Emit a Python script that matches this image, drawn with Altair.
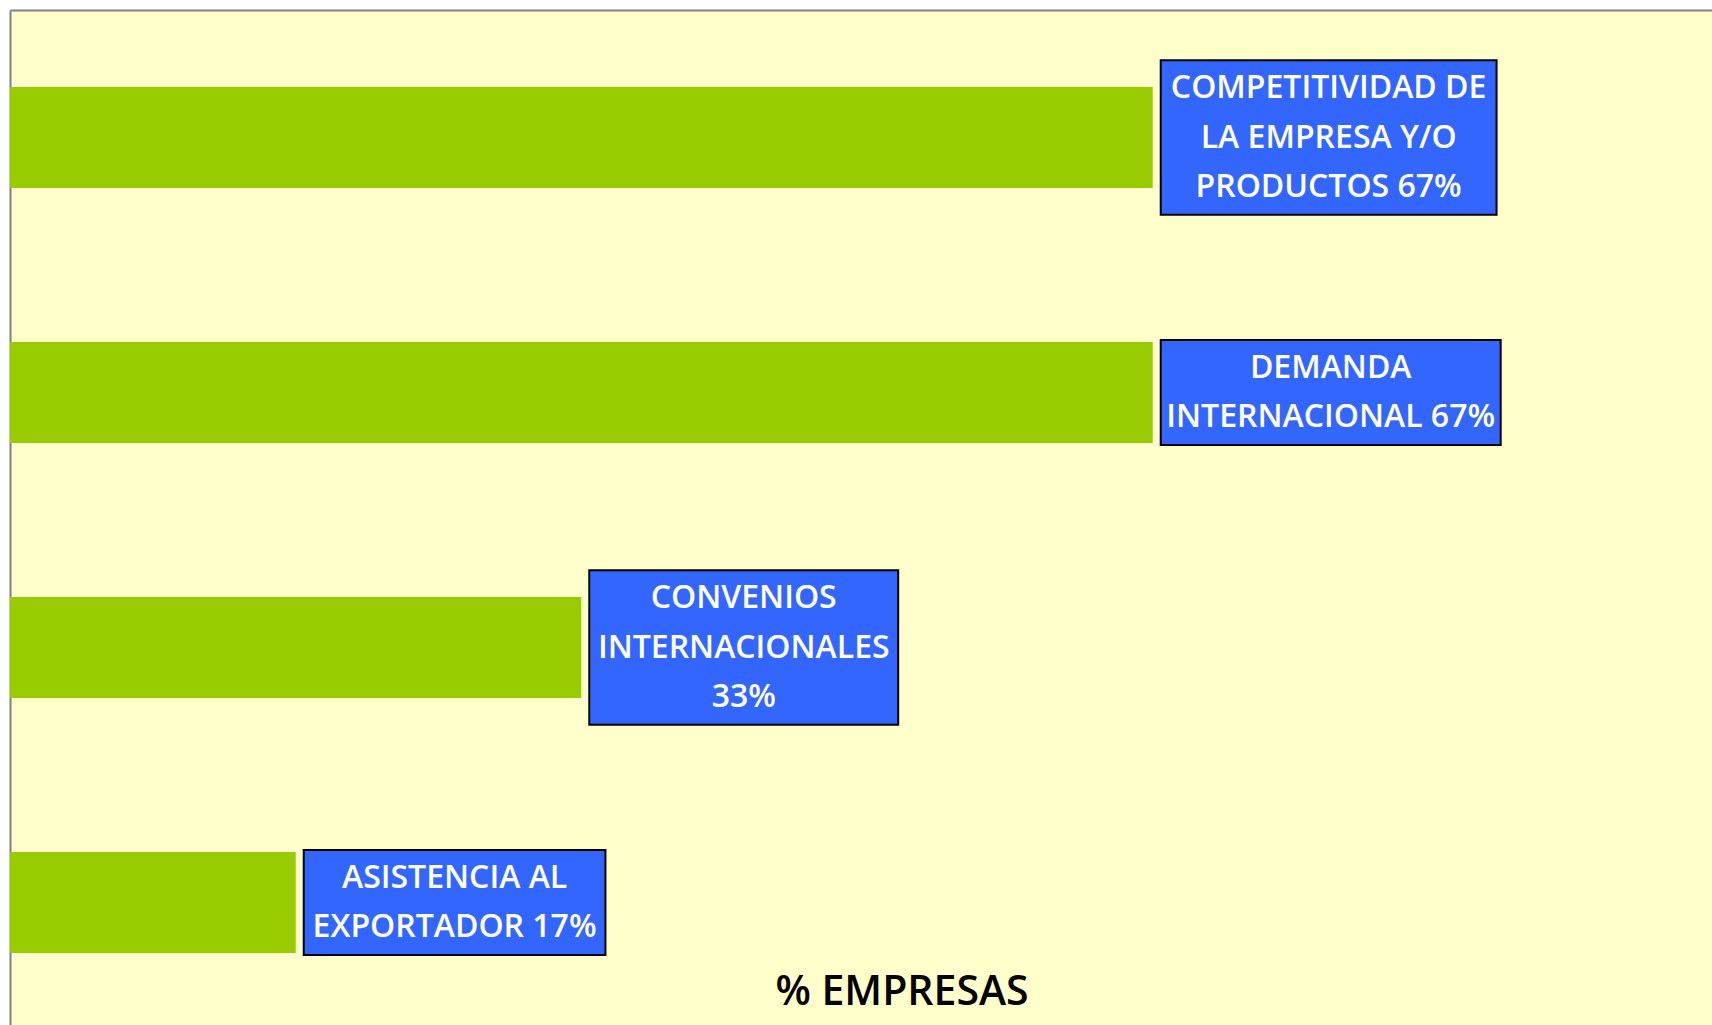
import altair as alt
import pandas as pd

# ---- data ----
categories = [
    "COMPETITIVIDAD DE LA EMPRESA Y/O PRODUCTOS",
    "DEMANDA INTERNACIONAL",
    "CONVENIOS INTERNACIONALES",
    "ASISTENCIA AL EXPORTADOR",
]
percent = [66.67, 66.67, 33.33, 16.67]
label_lines = [
    ["COMPETITIVIDAD DE", "LA EMPRESA Y/O", "PRODUCTOS 67%"],
    ["DEMANDA", "INTERNACIONAL 67%"],
    ["CONVENIOS", "INTERNACIONALES", "33%"],
    ["ASISTENCIA AL", "EXPORTADOR 17%"],
]
axis_title = "% EMPRESAS"

# ---- layout ----
W, H = 1702, 1015
XMAX = 99.3
FONT = 31
LABEL_FONT = 32
LINE_H = 49.5
GAP = 8
PADX = 8
BAR_H = 101
PPU = W / XMAX

# approximate glyph advance widths (em units) for sizing the label boxes
CW = {"A": .684, "B": .686, "C": .698, "D": .770, "E": .632, "F": .575, "G": .775,
      "H": .752, "I": .295, "J": .295, "K": .656, "L": .557, "M": .863, "N": .748,
      "O": .787, "P": .603, "Q": .787, "R": .695, "S": .635, "T": .611, "U": .732,
      "V": .684, "W": .989, "X": .685, "Y": .611, "Z": .685, " ": .318, "%": .85,
      "/": .337}


def text_w(s):
    return sum(CW.get(c, .55) for c in s) * FONT


rows = []
for cat, v, lines in zip(categories, percent, label_lines):
    bw = max(text_w(l) for l in lines) + 2 * PADX
    left = v + GAP / PPU
    right = left + bw / PPU
    rows.append({
        "cat": cat, "v": v, "lines": lines, "n": len(lines),
        "bl": left, "br": right, "bc": (left + right) / 2,
        "bh": len(lines) * LINE_H + 6,
    })
df = pd.DataFrame(rows)

x_scale = alt.Scale(domain=[0, XMAX], nice=False, zero=True)
y_scale = alt.Scale(paddingInner=0, paddingOuter=0, range=[0, 1020])
y_enc = alt.Y("cat:N", sort=categories, scale=y_scale,
              axis=alt.Axis(labels=False, ticks=False, title=None, grid=False,
                            domain=True, domainColor="#808080", domainWidth=2))
x_axis = alt.Axis(orient="top", labels=False, ticks=False, title=None, grid=False,
                  domain=True, domainColor="#808080", domainWidth=2)

base = alt.Chart(df)

bars = base.mark_bar(color="#99CC00", size=BAR_H).encode(
    x=alt.X("v:Q", scale=x_scale, axis=x_axis),
    y=y_enc,
)

boxes = base.mark_bar(color="#3366FF", stroke="#000000", strokeWidth=2).encode(
    x=alt.X("bl:Q", scale=x_scale, axis=x_axis),
    x2="br:Q",
    y=y_enc,
    size=alt.Size("bh:Q", scale=None, legend=None),
)


def text_layer(n):
    return base.transform_filter(alt.datum.n == n).mark_text(
        color="white", font="Open Sans", fontWeight=600, fontSize=LABEL_FONT,
        lineHeight=LINE_H, align="center", baseline="middle",
        dy=-(n - 1) * LINE_H / 2,
    ).encode(
        x=alt.X("bc:Q", scale=x_scale, axis=x_axis),
        y=y_enc,
        text="lines",
    )


chart = alt.layer(bars, boxes, text_layer(3), text_layer(2)).properties(
    width=W, height=H,
    autosize=alt.AutoSizeParams(type="none"),
    padding={"left": 10, "top": 10, "right": 0, "bottom": 0},
    background="white",
    title=alt.Title(axis_title, orient="bottom", anchor="middle", offset=-37,
                    dx=41, baseline="middle", font="Open Sans", fontSize=41,
                    fontWeight=600, color="black"),
).configure_view(fill="#FFFFCC", stroke=None)

chart.save("out.html", embed_options={"renderer": "svg", "actions": False})
